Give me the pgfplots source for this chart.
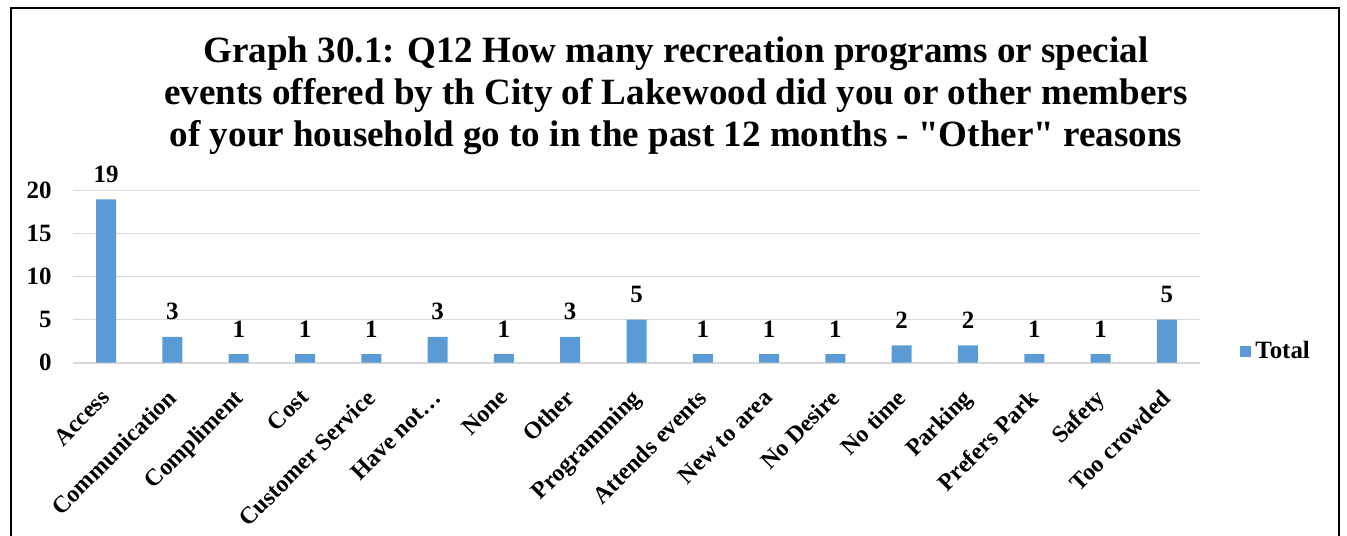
\documentclass[border=0pt]{standalone}
\usepackage{pgfplots}
\pgfplotsset{compat=1.18}
\usepackage{fontspec}
\setmainfont{Liberation Serif}
\newfontfamily\titlefont{Liberation Serif}
\definecolor{barblue}{HTML}{5B9BD5}
\definecolor{gridgray}{HTML}{D9D9D9}
\begin{document}
\begin{tikzpicture}
\useasboundingbox (0,0) rectangle (673.5bp,268bp);
\draw[line width=1bp] (5.5bp,-1bp) -- (5.5bp,263.9bp) -- (669.4bp,263.9bp) -- (669.4bp,-1bp);
\node[anchor=base,font=\titlefont\fontsize{18.6}{21}\selectfont\bfseries] at (338bp,236.5bp) {Graph 30.1: Q12 How many recreation programs or special};
\node[anchor=base,font=\titlefont\fontsize{18.6}{21}\selectfont\bfseries] at (338bp,215.5bp) {events offered by th City of Lakewood did you or other members};
\node[anchor=base,font=\titlefont\fontsize{18.6}{21}\selectfont\bfseries] at (338bp,194.5bp) {of your household go to in the past 12 months - "Other" reasons};
\begin{axis}[
  at={(36.5bp,86.65bp)}, anchor=south west,
  scale only axis, width=563.5bp, height=86bp,
  xmin=-0.5, xmax=16.5, ymin=0, ymax=20,
  ytick={0,5,10,15,20},
  xtick={0,...,16},
  xticklabels={Access,Communication,Compliment,Cost,Customer Service,Have not…,None,Other,Programming,Attends events,New to area,No Desire,No time,Parking,Prefers Park,Safety,Too crowded},
  /pgf/number format/assume math mode=true,
  axis line style={draw=none},
  major tick length=0pt,
  ymajorgrids, grid style={draw=gridgray, line width=0.8bp},
  tick label style={font=\fontsize{12.5}{14}\selectfont\bfseries},
  yticklabel style={anchor=east, inner sep=0pt, xshift=-10.5bp},
  xticklabel style={rotate=45, anchor=north east, inner sep=0pt, yshift=-6.5bp, xshift=-11bp, font=\fontsize{12}{14}\selectfont\bfseries},
  ybar, bar width=10bp,
  nodes near coords,
  every node near coord/.append style={font=\fontsize{12.5}{14}\selectfont\bfseries, anchor=base, yshift=8.5bp},
  legend style={at={(1.0355,0.068)}, anchor=west, draw=none, font=\fontsize{12.5}{14}\selectfont\bfseries, inner sep=0pt},
]
\addplot[fill=barblue, draw=none, legend image code/.code={\fill[barblue] (0bp,-2.75bp) rectangle (5.5bp,2.75bp);}] coordinates {
(0,19) (1,3) (2,1) (3,1) (4,1) (5,3) (6,1) (7,3) (8,5) (9,1) (10,1) (11,1) (12,2) (13,2) (14,1) (15,1) (16,5)};
\addlegendentry{Total}
\end{axis}
\end{tikzpicture}
\end{document}
